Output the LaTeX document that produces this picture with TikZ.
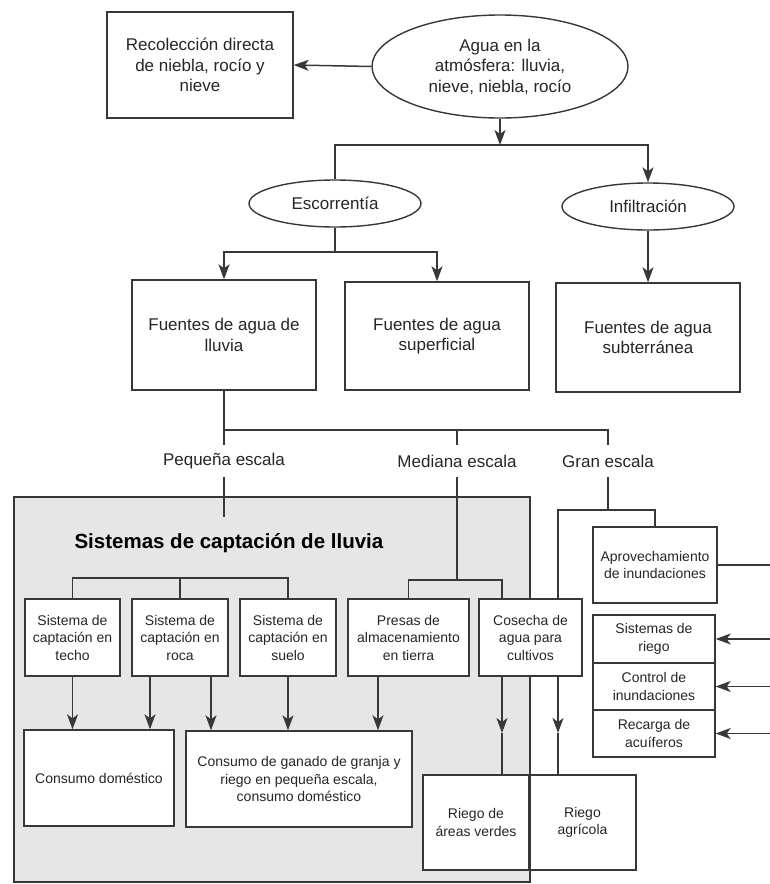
\documentclass[tikz,border=0pt]{standalone}
\usepackage{fontspec}
\setmainfont{Liberation Sans}
\usetikzlibrary{arrows.meta,shapes.geometric}
\definecolor{trazo}{HTML}{383838}
\definecolor{fondo}{HTML}{E6E6E6}

\begin{document}
\begin{tikzpicture}[x=1pt,y=-1pt,
 caja/.style={draw=trazo,fill=white,line width=1.4pt,align=center,inner sep=0pt,text=black!85},
 elip/.style={ellipse,draw=trazo,fill=white,line width=1.4pt,align=center,inner sep=0pt,text=black!85,font=\fontsize{17}{20.5}\selectfont},
 grande/.style={font=\fontsize{17}{20.5}\selectfont},
 chica/.style={font=\fontsize{14}{17.5}\selectfont},
 escala/.style={font=\fontsize{17}{20.5}\selectfont,minimum height=32,inner sep=0pt,text=black!85},
 con/.style={draw=trazo,line width=1.5pt},
 flecha/.style={con,-{Stealth[length=15pt,width=11pt,inset=4pt]}}]
\useasboundingbox (0,0) rectangle (770,884);
\coordinate (sisA) at (14,497);
\coordinate (sisB) at (530,882);
\coordinate (der) at (770,0);
\draw[line width=2.8pt,draw=trazo,fill=fondo] (sisA) rectangle (sisB);
\node[anchor=west,font=\bfseries\fontsize{20.5}{24}\selectfont] (titulo) at (71,543) {Sistemas de captación de lluvia};

\node[caja,grande,minimum width=186,minimum height=106] (recol) at (200,65) {Recolección directa\\de niebla, rocío y\\nieve};
\node[elip,minimum width=256,minimum height=103] (agua) at (500,66.5) {Agua en la\\atmósfera: lluvia,\\nieve, niebla, rocío};
\node[elip,minimum width=172,minimum height=47] (escor) at (335,203.5) {Escorrentía};
\node[elip,minimum width=172,minimum height=47] (infil) at (648,206.5) {Infiltración};
\node[caja,grande,minimum width=184,minimum height=110] (flluvia) at (224,335) {Fuentes de agua de\\lluvia};
\node[caja,grande,minimum width=184,minimum height=108] (fsuper) at (437,336) {Fuentes de agua\\superficial};
\node[caja,grande,minimum width=184,minimum height=109] (fsubte) at (648,337.5) {Fuentes de agua\\subterránea};
\node[escala] (peq) at (224,461) {Pequeña escala};
\node[escala] (med) at (457,461) {Mediana escala};
\node[escala] (gran) at (608,461) {Gran escala};

\node[caja,chica,minimum width=95,minimum height=77] (techo) at (72.5,637.5) {Sistema de\\captación en\\techo};
\node[caja,chica,minimum width=96,minimum height=77] (roca) at (180,637.5) {Sistema de\\captación en\\roca};
\node[caja,chica,minimum width=96,minimum height=77] (suelo) at (288,637.5) {Sistema de\\captación en\\suelo};
\node[caja,chica,minimum width=121,minimum height=77] (presas) at (408.5,637.5) {Presas de\\almacenamiento\\en tierra};
\node[caja,chica,minimum width=103,minimum height=77] (cosecha) at (530.5,637.5) {Cosecha de\\agua para\\cultivos};
\node[caja,chica,minimum width=124,minimum height=76] (aprov) at (655,565) {Aprovechamiento\\de inundaciones};
\node[caja,chica,minimum width=122,minimum height=48] (riego) at (654,639) {Sistemas de\\riego};
\node[caja,chica,minimum width=122,minimum height=47] (control) at (654,686.5) {Control de\\inundaciones};
\node[caja,chica,minimum width=122,minimum height=47] (recarga) at (654,733.5) {Recarga de\\acuíferos};
\node[caja,chica,minimum width=150,minimum height=96] (domestico) at (99,778) {Consumo doméstico};
\node[caja,chica,minimum width=226,minimum height=96] (ganado) at (299,779) {Consumo de ganado de granja y\\riego en pequeña escala,\\consumo doméstico};
\node[caja,chica,minimum width=106,minimum height=95] (verdes) at (476,822.5) {Riego de\\áreas verdes};
\node[caja,chica,minimum width=107,minimum height=95] (agricola) at (582.5,822.5) {Riego\\agrícola};

\coordinate (c1) at (500,145);
\coordinate (c2) at (335,252);
\coordinate (c3) at (224,430);
\coordinate (c4) at (224,517);
\coordinate (c5) at (457,580);
\coordinate (c6) at (608,510);
\coordinate (c7) at (180,578);
\coordinate (r1) at (150,700);
\coordinate (r2) at (211,700);
\coordinate (p1) at (378,700);
\coordinate (k1) at (502,733);
\coordinate (k2) at (558,733);

\draw[flecha] (agua.west) -- (recol.east);
\draw[flecha] (agua.south) -- (c1);
\draw[con] (c1) -| (escor.north);
\draw[flecha] (c1) -| (infil.north);
\draw[con] (escor.south) -- (c2);
\draw[flecha] (c2) -| (flluvia.north);
\draw[flecha] (c2) -| (fsuper.north);
\draw[flecha] (infil.south) -- (fsubte.north);
\draw[con] (flluvia.south) -- (peq.north);
\draw[con] (c3) -| (med.north);
\draw[con] (c3) -| (gran.north);
\draw[con] (peq.south) -- (c4);
\draw[con] (med.south) -- (c5) -| (presas.north);
\draw[con] (c5) -| (k1 |- cosecha.north);
\draw[con] (gran.south) -- (c6) -| (aprov.north);
\draw[con] (c6) -| (k2 |- cosecha.north);
\draw[con] (techo.north) |- (c7) -| (suelo.north);
\draw[con] (c7) -- (roca.north);
\draw[flecha] (techo.south) -- (techo.south |- domestico.north);
\draw[flecha] (r1 |- roca.south) -- (r1 |- domestico.north);
\draw[flecha] (r2 |- roca.south) -- (r2 |- ganado.north);
\draw[flecha] (suelo.south) -- (suelo.south |- ganado.north);
\draw[flecha] (p1 |- presas.south) -- (p1 |- ganado.north);
\draw[flecha] (k1 |- cosecha.south) -- (k1);
\draw[con] (k1) -- (k1 |- verdes.north);
\draw[flecha] (k2 |- cosecha.south) -- (k2);
\draw[con] (k2) -- (k2 |- agricola.north);
\draw[line width=2.8pt,draw=trazo] (sisB |- cosecha.south) -- (sisB);
\draw[con] (aprov.east) -- (aprov.east -| der);
\draw[flecha] (riego.east -| der) -- (riego.east);
\draw[flecha] (control.east -| der) -- (control.east);
\draw[flecha] (recarga.east -| der) -- (recarga.east);
\end{tikzpicture}
\end{document}
